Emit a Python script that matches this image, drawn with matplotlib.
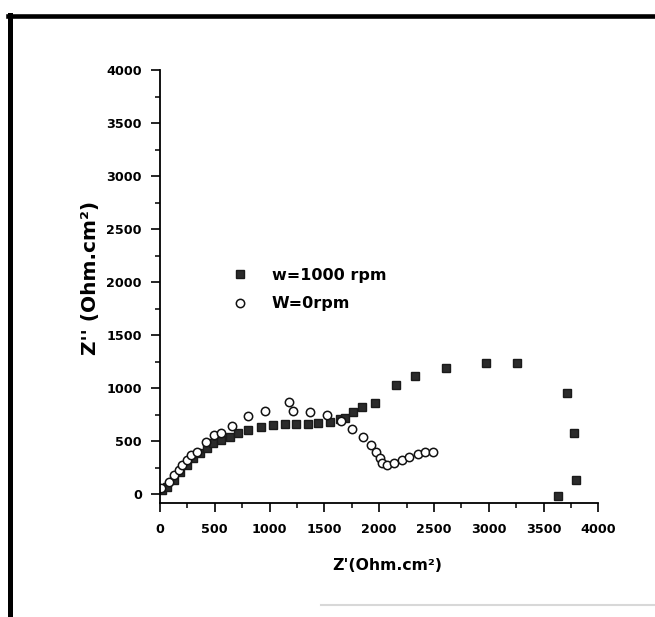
import matplotlib
matplotlib.use("Agg")
import matplotlib.pyplot as plt
from matplotlib.lines import Line2D
from matplotlib.ticker import MultipleLocator

plt.rcParams["font.family"] = ["DejaVu Sans"]
plt.rcParams["font.weight"] = "bold"

# Impedance data, rotating electrode at 1000 rpm
z_re_1000 = [20, 65, 125, 185, 245, 305, 365, 425, 485, 560, 635, 710, 800, 925,
             1030, 1140, 1245, 1350, 1445, 1550, 1645, 1690, 1765, 1845, 1965,
             2150, 2330, 2610, 2975, 3260, 3710, 3780, 3800, 3630]
z_im_1000 = [40, 72, 135, 213, 277, 340, 387, 434, 481, 512, 544, 575, 607, 638,
             654, 663, 663, 663, 676, 685, 707, 717, 780, 827, 864,
             1031, 1116, 1195, 1236, 1236, 953, 575, 135, -16]

# Impedance data, static electrode (0 rpm)
z_re_0 = [10, 80, 125, 170, 200, 245, 285, 340, 420, 490, 555, 655, 805, 955,
          1180, 1210, 1365, 1520, 1650, 1755, 1855, 1925, 1975, 2010, 2030,
          2075, 2135, 2210, 2270, 2350, 2420, 2490]
z_im_0 = [57, 119, 182, 229, 277, 324, 371, 402, 496, 560, 581, 647, 739, 786,
          868, 786, 774, 748, 692, 616, 544, 465, 402, 340, 293,
          277, 293, 324, 349, 377, 399, 399]

label_1000 = "w=1000 rpm"
label_0 = "W=0rpm"

fig = plt.figure(figsize=(6.55, 6.17), dpi=100)
ax = fig.add_axes([0.2443, 0.184, 0.6692, 0.7025])

ax.plot(z_re_1000, z_im_1000, linestyle="none", marker="s", markersize=5.3,
        markerfacecolor="#2b2b2b", markeredgecolor="#1a1a1a", label=label_1000)
ax.plot(z_re_0, z_im_0, linestyle="none", marker="o", markersize=6,
        markerfacecolor="white", markeredgecolor="#111111", markeredgewidth=1.1,
        label=label_0)

ax.set_xlim(0, 4000)
ax.set_ylim(-85, 4000)
ax.xaxis.set_major_locator(MultipleLocator(500))
ax.xaxis.set_minor_locator(MultipleLocator(250))
ax.yaxis.set_major_locator(MultipleLocator(500))
ax.yaxis.set_minor_locator(MultipleLocator(250))

for side in ("top", "right"):
    ax.spines[side].set_visible(False)
for side in ("left", "bottom"):
    ax.spines[side].set_linewidth(1.3)

ax.tick_params(which="major", direction="out", length=6.5, width=1.2,
               labelsize=9.2)
ax.tick_params(axis="x", which="major", pad=7.5)
ax.tick_params(axis="y", which="major", pad=6.5)
ax.tick_params(which="minor", direction="out", length=3.5, width=1.1)
for lab in ax.get_xticklabels() + ax.get_yticklabels():
    lab.set_fontweight("bold")

ax.set_xlabel("Z'(Ohm.cm²)", fontsize=11.3, fontweight="bold")
ax.xaxis.set_label_coords(0.518, -0.125)
ax.set_ylabel("Z'' (Ohm.cm²)", fontsize=14.5, fontweight="bold")
ax.yaxis.set_label_coords(-0.137, 0.52)

leg = ax.legend(loc="upper left", bbox_to_anchor=(0.131, 0.5765), frameon=False,
                prop={"size": 11.5, "weight": "bold"}, handlelength=1.0,
                handletextpad=1.5, labelspacing=0.84, markerscale=1.0)

# document frame around the figure
fig.add_artist(Line2D([0.012, 1.0], [0.974, 0.974], transform=fig.transFigure,
                      color="black", linewidth=3.3))
fig.add_artist(Line2D([0.016, 0.016], [0.0, 0.976], transform=fig.transFigure,
                      color="black", linewidth=3.6))
fig.add_artist(Line2D([0.49, 1.0], [0.02, 0.02], transform=fig.transFigure,
                      color="#d8d8d8", linewidth=1.5))

fig.savefig("out.png", dpi=100, facecolor="white")
